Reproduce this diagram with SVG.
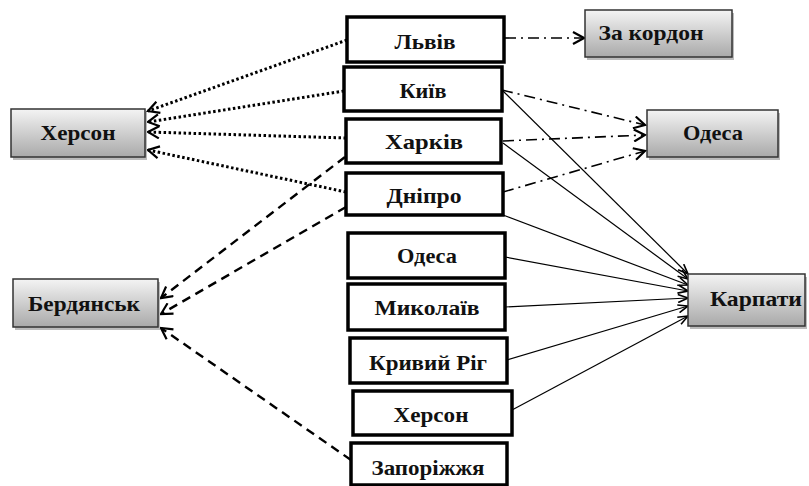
<svg xmlns="http://www.w3.org/2000/svg" width="809" height="486" viewBox="0 0 809 486">
<defs>
<linearGradient id="g" x1="0" y1="0" x2="0" y2="1">
<stop offset="0" stop-color="#f4f4f4"/>
<stop offset="1" stop-color="#a9a9a9"/>
</linearGradient>
<marker id="a" markerWidth="14" markerHeight="14" refX="12" refY="7" orient="auto" markerUnits="userSpaceOnUse">
<path d="M1,1 L12,7 L1,13" fill="none" stroke="#000" stroke-width="2.2"/>
</marker>
<marker id="s" markerWidth="12" markerHeight="10" refX="11" refY="5" orient="auto" markerUnits="userSpaceOnUse">
<path d="M1,1 L11,5 L1,9" fill="none" stroke="#000" stroke-width="1.6"/>
</marker>
</defs>
<style>
.gb rect.b{fill:url(#g);stroke:#333;stroke-width:1.5}
.gb rect.sh{fill:#bbb}
.wb rect{fill:#fff;stroke:#000;stroke-width:3.5}
text{font-family:"Liberation Serif","Times New Roman",serif;font-weight:bold;font-size:22px;fill:#111;text-anchor:middle}
.dot{stroke:#000;stroke-width:3;stroke-dasharray:2.5,2.5;fill:none;marker-end:url(#a)}
.dd{stroke:#000;stroke-width:1.6;stroke-dasharray:11,5,2,5;fill:none;marker-end:url(#a)}
.ds{stroke:#000;stroke-width:2.4;stroke-dasharray:9,6;fill:none;marker-end:url(#a)}
.sl{stroke:#000;stroke-width:1.2;fill:none;marker-end:url(#s)}
</style>
<g id="connectors">
<line class="dot" x1="347" y1="40" x2="148" y2="111"/>
<line class="dot" x1="344" y1="91" x2="148" y2="122"/>
<line class="dot" x1="346" y1="138" x2="148" y2="132"/>
<line class="dot" x1="346" y1="192" x2="148" y2="150"/>
<line class="dd" x1="505" y1="38" x2="584" y2="38"/>
<line class="dd" x1="502" y1="90" x2="645" y2="125"/>
<line class="dd" x1="503" y1="141" x2="645" y2="135"/>
<line class="dd" x1="503" y1="192" x2="645" y2="151"/>
<line class="sl" x1="502" y1="90" x2="688" y2="274"/>
<line class="sl" x1="503" y1="143" x2="688" y2="279"/>
<line class="sl" x1="503" y1="215" x2="688" y2="285"/>
<line class="sl" x1="505" y1="257" x2="688" y2="291"/>
<line class="sl" x1="505" y1="307" x2="688" y2="298"/>
<line class="sl" x1="507" y1="360" x2="688" y2="306"/>
<line class="sl" x1="512" y1="410" x2="688" y2="316"/>
<line class="ds" x1="345" y1="157" x2="161" y2="298"/>
<line class="ds" x1="346" y1="207" x2="161" y2="314"/>
<line class="ds" x1="351" y1="460" x2="161" y2="328"/>
</g>
<g id="n_herson_l" class="gb"><rect class="sh" x="13" y="112" width="134" height="48"/><rect class="b" x="11" y="109" width="134" height="48"/><text x="78" y="140" textLength="75" lengthAdjust="spacingAndGlyphs">Херсон</text></g>
<g id="n_berdyansk" class="gb"><rect class="sh" x="15" y="282" width="145" height="48"/><rect class="b" x="13" y="279" width="145" height="48"/><text x="84" y="311" textLength="112" lengthAdjust="spacingAndGlyphs">Бердянськ</text></g>
<g id="n_lviv" class="wb"><rect x="347" y="17" width="157" height="45"/><text x="425" y="49" textLength="61" lengthAdjust="spacingAndGlyphs">Львів</text></g>
<g id="n_kyiv" class="wb"><rect x="344" y="67" width="158" height="44"/><text x="423" y="98" textLength="47" lengthAdjust="spacingAndGlyphs">Київ</text></g>
<g id="n_kharkiv" class="wb"><rect x="346" y="119" width="155" height="44"/><text x="424" y="149" textLength="78" lengthAdjust="spacingAndGlyphs">Харків</text></g>
<g id="n_dnipro" class="wb"><rect x="346" y="173" width="157" height="42"/><text x="424" y="203" textLength="75" lengthAdjust="spacingAndGlyphs">Дніпро</text></g>
<g id="n_odesa_c" class="wb"><rect x="348" y="233" width="157" height="45"/><text x="427" y="263" textLength="60" lengthAdjust="spacingAndGlyphs">Одеса</text></g>
<g id="n_mykolaiv" class="wb"><rect x="348" y="284" width="157" height="46"/><text x="427" y="315" textLength="105" lengthAdjust="spacingAndGlyphs">Миколаїв</text></g>
<g id="n_kryvyirih" class="wb"><rect x="350" y="338" width="157" height="45"/><text x="428" y="370" textLength="118" lengthAdjust="spacingAndGlyphs">Кривий Ріг</text></g>
<g id="n_herson_c" class="wb"><rect x="353" y="391" width="159" height="44"/><text x="431" y="422" textLength="75" lengthAdjust="spacingAndGlyphs">Херсон</text></g>
<g id="n_zaporizhzhia" class="wb"><rect x="351" y="443" width="156" height="42"/><text x="428" y="475" textLength="113" lengthAdjust="spacingAndGlyphs">Запоріжжя</text></g>
<g id="n_zakordon" class="gb"><rect class="sh" x="587" y="13" width="147" height="47"/><rect class="b" x="585" y="10" width="147" height="47"/><text x="651" y="40" textLength="105" lengthAdjust="spacingAndGlyphs">За кордон</text></g>
<g id="n_odesa_r" class="gb"><rect class="sh" x="649" y="113" width="131" height="47"/><rect class="b" x="647" y="110" width="131" height="47"/><text x="713" y="140" textLength="60" lengthAdjust="spacingAndGlyphs">Одеса</text></g>
<g id="n_karpaty" class="gb"><rect class="sh" x="690" y="277" width="117" height="52"/><rect class="b" x="688" y="274" width="117" height="52"/><text x="756" y="306" textLength="92" lengthAdjust="spacingAndGlyphs">Карпати</text></g>
</svg>
